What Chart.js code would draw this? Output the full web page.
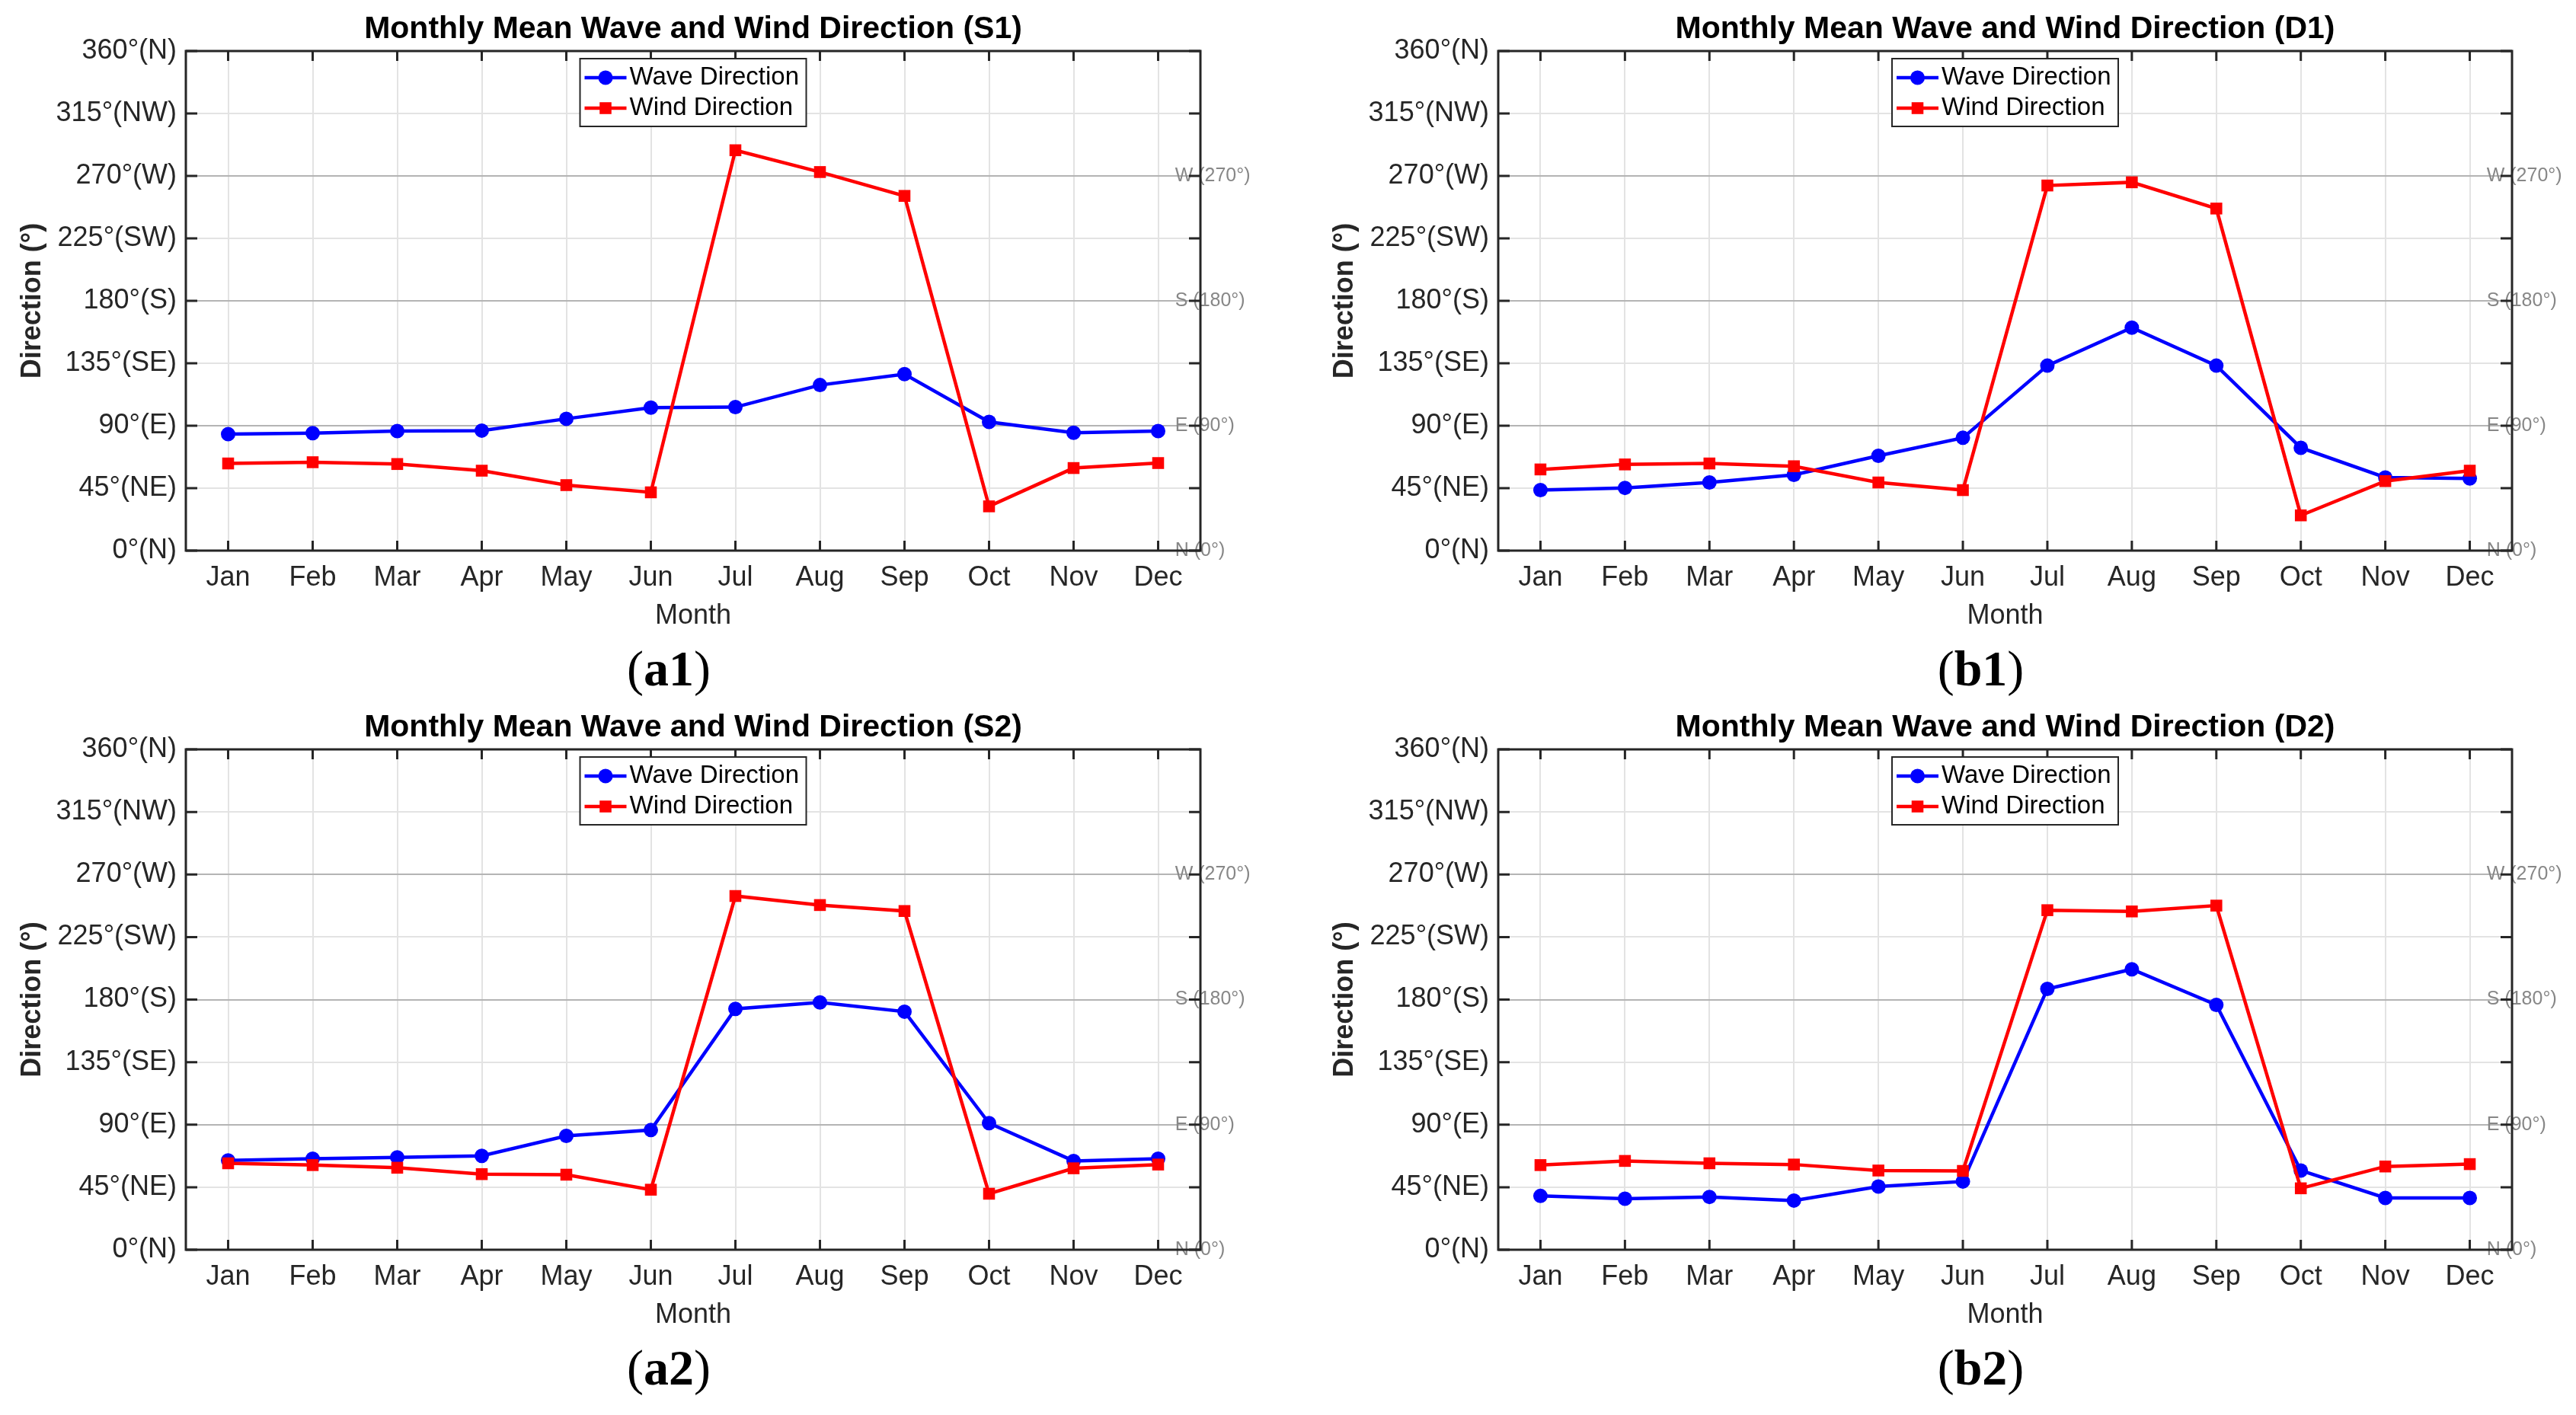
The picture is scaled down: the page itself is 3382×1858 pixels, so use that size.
<!DOCTYPE html>
<html lang="en">
<head>
    <meta charset="UTF-8">
    <title>Monthly Mean Wave and Wind Direction</title>
    <script src="https://cdn.jsdelivr.net/npm/chart.js"></script>
    <style>
        body { margin: 0; background: #fff; }
        #figure { position: relative; width: 3382px; height: 1858px; background: #fff; }
        #figure canvas { position: absolute; }
    </style>
</head>
<body>
    <div id="figure">
        <canvas id="a1" width="1691" height="929" style="left:0;top:0"></canvas>
        <canvas id="b1" width="1691" height="929" style="left:1691px;top:0"></canvas>
        <canvas id="a2" width="1691" height="929" style="left:0;top:929px"></canvas>
        <canvas id="b2" width="1691" height="929" style="left:1691px;top:929px"></canvas>
    </div>

    <script>
        // values (degrees)
        const MONTHS = ['Jan', 'Feb', 'Mar', 'Apr', 'May', 'Jun', 'Jul', 'Aug', 'Sep', 'Oct', 'Nov', 'Dec'];
        const Y_TICKS = [0, 45, 90, 135, 180, 225, 270, 315, 360];
        const Y_TICK_LABELS = ['0°(N)', '45°(NE)', '90°(E)', '135°(SE)', '180°(S)', '225°(SW)', '270°(W)', '315°(NW)', '360°(N)'];
        const REF_VALUES = [0, 90, 180, 270];
        const REF_LABELS = ['N (0°)', 'E (90°)', 'S (180°)', 'W (270°)'];

        const S1_WAVE = [83.9, 84.6, 86.2, 86.5, 95.0, 103.0, 103.4, 119.3, 127.2, 92.7, 84.9, 86.2];
        const S1_WIND = [62.8, 63.7, 62.4, 57.6, 47.2, 42.0, 288.5, 272.8, 255.6, 31.9, 59.5, 63.1];
        const D1_WAVE = [43.6, 45.2, 49.1, 54.6, 68.3, 81.3, 133.3, 160.7, 133.3, 74.1, 52.7, 52.0];
        const D1_WIND = [58.5, 62.1, 62.8, 60.8, 49.1, 43.6, 263.1, 265.4, 246.5, 25.4, 50.1, 57.6];
        const S2_WAVE = [64.2, 65.5, 66.5, 67.5, 81.9, 86.1, 173.3, 177.9, 171.3, 91.1, 63.9, 65.5];
        const S2_WIND = [62.2, 60.9, 59.0, 54.4, 54.0, 43.2, 254.5, 248.0, 243.7, 40.3, 58.6, 61.3];
        const D2_WAVE = [38.7, 36.7, 38.0, 35.4, 45.5, 49.1, 187.7, 201.8, 176.2, 57.0, 37.3, 37.3];
        const D2_WIND = [60.9, 63.9, 62.2, 61.3, 57.0, 56.7, 244.3, 243.4, 247.6, 44.2, 59.9, 61.6];

        const CANVAS_W = 1691, CANVAS_H = 929;
        const Y_AXIS_W = 244, X_AXIS_H = 120;
        const SANS = '"Liberation Sans", Arial, Helvetica, sans-serif';
        const SERIF = '"Liberation Serif", "Times New Roman", serif';
        const TEXT = '#262626';

        // plot box of each panel, in canvas pixels
        const panels = [
            { id: 'a1', title: 'Monthly Mean Wave and Wind Direction (S1)', tag: 'a1', wave: S1_WAVE, wind: S1_WIND, left: 244, right: 1576, top: 67, bottom: 723 },
            { id: 'b1', title: 'Monthly Mean Wave and Wind Direction (D1)', tag: 'b1', wave: D1_WAVE, wind: D1_WIND, left: 276, right: 1607, top: 67, bottom: 723 },
            { id: 'a2', title: 'Monthly Mean Wave and Wind Direction (S2)', tag: 'a2', wave: S2_WAVE, wind: S2_WIND, left: 244, right: 1576, top: 55, bottom: 712 },
            { id: 'b2', title: 'Monthly Mean Wave and Wind Direction (D2)', tag: 'b2', wave: D2_WAVE, wind: D2_WIND, left: 276, right: 1607, top: 55, bottom: 712 }
        ];

        function drawMarker(ctx, style, r, x, y) {
            ctx.beginPath();
            if (style === 'rect') {
                const s = Math.SQRT1_2 * r;
                ctx.rect(x - s, y - s, 2 * s, 2 * s);
            } else {
                ctx.arc(x, y, r, 0, Math.PI * 2);
            }
            ctx.fill();
        }

        // "(a1)" style tag: plain parentheses, bold letters
        function drawTag(ctx, tag, cx, cy) {
            const plain = '66px ' + SERIF, bold = 'bold 66px ' + SERIF;
            ctx.font = plain;
            const wp = ctx.measureText('(').width, wq = ctx.measureText(')').width;
            ctx.font = bold;
            const wt = ctx.measureText(tag).width;
            let x = cx - (wp + wt + wq) / 2;
            ctx.textAlign = 'left';
            ctx.font = plain; ctx.fillText('(', x, cy); x += wp;
            ctx.font = bold; ctx.fillText(tag, x, cy); x += wt;
            ctx.font = plain; ctx.fillText(')', x, cy);
        }

        // title, compass labels, box with inward ticks, legend, panel tag
        const decor = {
            id: 'decor',
            afterDraw(chart, args, opts) {
                const ctx = chart.ctx;
                const a = chart.chartArea;
                const xs = chart.scales.x, ys = chart.scales.y;
                const cx = (a.left + a.right) / 2;
                ctx.save();

                ctx.fillStyle = '#000';
                ctx.font = 'bold 41px ' + SANS;
                ctx.textAlign = 'center';
                ctx.textBaseline = 'middle';
                ctx.fillText(opts.title, cx, a.top - 28);

                drawTag(ctx, opts.tag, cx - 32, a.bottom + 160);

                ctx.fillStyle = '#878787';
                ctx.font = '25px ' + SANS;
                ctx.textAlign = 'left';
                REF_VALUES.forEach((v, i) => {
                    ctx.fillText(REF_LABELS[i], xs.getPixelForValue(12.2), ys.getPixelForValue(v));
                });

                ctx.strokeStyle = TEXT;
                ctx.lineWidth = 3;
                ctx.beginPath();
                Y_TICKS.forEach(v => {
                    const y = ys.getPixelForValue(v);
                    ctx.moveTo(a.left, y); ctx.lineTo(a.left + 15, y);
                    ctx.moveTo(a.right, y); ctx.lineTo(a.right - 15, y);
                });
                MONTHS.forEach((m, i) => {
                    const x = xs.getPixelForValue(i + 1);
                    ctx.moveTo(x, a.bottom); ctx.lineTo(x, a.bottom - 13);
                    ctx.moveTo(x, a.top); ctx.lineTo(x, a.top + 13);
                });
                ctx.stroke();
                ctx.strokeRect(a.left, a.top, a.right - a.left, a.bottom - a.top);

                // legend
                const bw = 297, bh = 89;
                const bx = cx - bw / 2, by = a.top + 10;
                ctx.fillStyle = '#fff';
                ctx.fillRect(bx, by, bw, bh);
                ctx.lineWidth = 2;
                ctx.strokeRect(bx, by, bw, bh);
                ctx.font = '33px ' + SANS;
                chart.data.datasets.forEach((ds, i) => {
                    const y = by + 25 + i * 40;
                    ctx.strokeStyle = ds.borderColor;
                    ctx.lineWidth = ds.borderWidth;
                    ctx.beginPath();
                    ctx.moveTo(bx + 6, y); ctx.lineTo(bx + 61, y);
                    ctx.stroke();
                    ctx.fillStyle = ds.backgroundColor;
                    drawMarker(ctx, ds.pointStyle, ds.pointRadius, bx + 33.5, y);
                    ctx.fillStyle = '#000';
                    ctx.fillText(ds.label, bx + 65, y);
                });
                ctx.restore();
            }
        };

        function makeChart(p) {
            const tickFont = { family: SANS, size: 36 };
            new Chart(document.getElementById(p.id), {
                type: 'line',
                data: {
                    datasets: [
                        {
                            label: 'Wave Direction',
                            data: p.wave.map((v, i) => ({ x: i + 1, y: v })),
                            borderColor: '#0000ff',
                            backgroundColor: '#0000ff',
                            borderWidth: 4.5,
                            pointStyle: 'circle',
                            pointRadius: 9.5,
                            pointBorderWidth: 0,
                            order: 2
                        },
                        {
                            label: 'Wind Direction',
                            data: p.wind.map((v, i) => ({ x: i + 1, y: v })),
                            borderColor: '#ff0000',
                            backgroundColor: '#ff0000',
                            borderWidth: 4.5,
                            pointStyle: 'rect',
                            pointRadius: 11,
                            pointBorderWidth: 0,
                            order: 1
                        }
                    ]
                },
                options: {
                    responsive: false,
                    animation: false,
                    devicePixelRatio: 1,
                    layout: {
                        padding: {
                            left: p.left - Y_AXIS_W,
                            right: CANVAS_W - p.right,
                            top: p.top,
                            bottom: CANVAS_H - p.bottom - X_AXIS_H
                        }
                    },
                    plugins: {
                        legend: { display: false },
                        tooltip: { enabled: false },
                        decor: { title: p.title, tag: p.tag }
                    },
                    scales: {
                        x: {
                            type: 'linear',
                            min: 0.5,
                            max: 12.5,
                            afterBuildTicks: s => { s.ticks = MONTHS.map((m, i) => ({ value: i + 1 })); },
                            afterFit: s => { s.height = X_AXIS_H; },
                            ticks: {
                                callback: (v, i) => MONTHS[i],
                                font: tickFont,
                                color: TEXT,
                                padding: 14,
                                maxRotation: 0,
                                autoSkip: false
                            },
                            grid: { color: '#e3e3e3', lineWidth: 2, drawTicks: false },
                            border: { display: false },
                            title: {
                                display: true,
                                text: 'Month',
                                font: tickFont,
                                color: TEXT,
                                padding: { top: 0, bottom: 12 }
                            }
                        },
                        y: {
                            min: 0,
                            max: 360,
                            afterBuildTicks: s => { s.ticks = Y_TICKS.map(v => ({ value: v })); },
                            afterFit: s => { s.width = Y_AXIS_W; },
                            ticks: {
                                callback: (v, i) => Y_TICK_LABELS[i],
                                font: tickFont,
                                color: TEXT,
                                padding: 12
                            },
                            grid: {
                                color: c => (c.tick && [90, 180, 270].includes(c.tick.value)) ? '#b4b4b4' : '#e3e3e3',
                                lineWidth: 2,
                                drawTicks: false
                            },
                            border: { display: false },
                            title: {
                                display: true,
                                text: 'Direction (°)',
                                font: { family: SANS, size: 36, weight: 'bold' },
                                color: TEXT,
                                padding: { top: 21, bottom: 0 }
                            }
                        }
                    }
                },
                plugins: [decor]
            });
        }

        panels.forEach(makeChart);
    </script>
</body>
</html>
